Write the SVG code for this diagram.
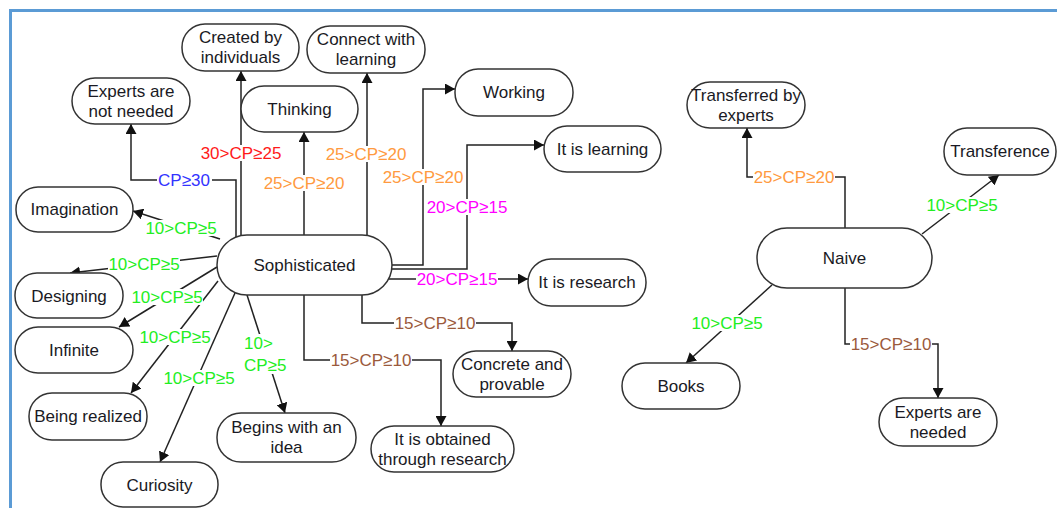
<svg xmlns="http://www.w3.org/2000/svg" width="1057" height="508" viewBox="0 0 1057 508">
<style>
.n rect{fill:#fff;stroke:#333;stroke-width:1.5}
.n text,.lb text{font-family:"Liberation Sans",Arial,sans-serif;font-size:17px;text-anchor:middle}
.n text{fill:#1a1a24}
.c path{fill:none;stroke:#222;stroke-width:1.5}
.lb rect{fill:#fff}
.bl{fill:#3333ff}.rd{fill:#ff1a1a}.or{fill:#ff9a40}.mg{fill:#ff00ff}.gr{fill:#22ee22}.br{fill:#9b5a3c}
</style>
<defs>
<marker id="ah" markerUnits="userSpaceOnUse" markerWidth="11" markerHeight="11" refX="10" refY="5.5" orient="auto">
<path d="M0,0 L10,5.5 L0,11 z" fill="#111"/>
</marker>
</defs>
<g id="frame" stroke="#5b9bd5" stroke-width="3">
<line x1="9" y1="10.5" x2="1057" y2="10.5"/>
<line x1="10.5" y1="9" x2="10.5" y2="508"/>
</g>
<g class="c" id="connectors" marker-end="url(#ah)">
<path d="M236,237 V180 H131 V124"/>
<path d="M241,236 V71"/>
<path d="M304,235 V132"/>
<path d="M367,236 V73"/>
<path d="M392,265 H423 V89 H455"/>
<path d="M391,269 H467 V145 H544"/>
<path d="M389,279 H528"/>
<path d="M362,295 V323 H512 V351"/>
<path d="M304,295 V360 H441 V426"/>
<path d="M247,295 L285,413"/>
<path d="M235,293 L160,462"/>
<path d="M218,281 L131,393"/>
<path d="M217,267 L119,327"/>
<path d="M217,256 L70,273"/>
<path d="M220,239 L133,211"/>
<path d="M845,228 V177 H747 V128"/>
<path d="M922,234 L999,175"/>
<path d="M772,285 L686,363"/>
<path d="M845,288 V344 H938 V398"/>
</g>
<g class="lb" id="labels">
<rect x="157" y="172" width="55" height="16"/><text class="bl" x="184" y="186">CP≥30</text>
<rect x="199" y="145" width="84" height="16"/><text class="rd" x="241" y="159">30&gt;CP≥25</text>
<rect x="263" y="175" width="82" height="16"/><text class="or" x="304" y="189">25&gt;CP≥20</text>
<rect x="325" y="146" width="82" height="16"/><text class="or" x="366" y="160">25&gt;CP≥20</text>
<rect x="382" y="169" width="82" height="16"/><text class="or" x="423" y="183">25&gt;CP≥20</text>
<rect x="426" y="199" width="82" height="16"/><text class="mg" x="467" y="213">20&gt;CP≥15</text>
<rect x="416" y="271" width="82" height="16"/><text class="mg" x="457" y="285">20&gt;CP≥15</text>
<rect x="394" y="315" width="82" height="16"/><text class="br" x="435" y="329">15&gt;CP≥10</text>
<rect x="330" y="352" width="82" height="16"/><text class="br" x="371" y="366">15&gt;CP≥10</text>
<rect x="243" y="334" width="46" height="40"/><text class="gr" x="244" y="349" style="text-anchor:start">10&gt;</text><text class="gr" x="244" y="371" style="text-anchor:start">CP≥5</text>
<rect x="163" y="370" width="72" height="16"/><text class="gr" x="199" y="384">10&gt;CP≥5</text>
<rect x="139" y="329" width="72" height="16"/><text class="gr" x="175" y="343">10&gt;CP≥5</text>
<rect x="131" y="289" width="72" height="16"/><text class="gr" x="167" y="303">10&gt;CP≥5</text>
<rect x="108" y="256" width="72" height="16"/><text class="gr" x="144" y="270">10&gt;CP≥5</text>
<rect x="145" y="220" width="72" height="16"/><text class="gr" x="181" y="234">10&gt;CP≥5</text>
<rect x="753" y="169" width="82" height="16"/><text class="or" x="794" y="183">25&gt;CP≥20</text>
<rect x="926" y="197" width="72" height="16"/><text class="gr" x="962" y="211">10&gt;CP≥5</text>
<rect x="691" y="315" width="72" height="16"/><text class="gr" x="727" y="329">10&gt;CP≥5</text>
<rect x="850" y="336" width="82" height="16"/><text class="br" x="891" y="350">15&gt;CP≥10</text>
</g>
<g class="n" id="n-sophisticated"><rect x="217" y="235" width="175" height="60" rx="30"/><text x="304.5" y="271">Sophisticated</text></g>
<g class="n" id="n-created"><rect x="182" y="24" width="117" height="47" rx="23"/><text x="240.5" y="43">Created by</text><text x="240.5" y="63">individuals</text></g>
<g class="n" id="n-expnot"><rect x="72" y="78" width="118" height="46" rx="23"/><text x="131" y="97">Experts are</text><text x="131" y="117">not needed</text></g>
<g class="n" id="n-thinking"><rect x="241" y="86" width="117" height="46" rx="23"/><text x="299.5" y="115">Thinking</text></g>
<g class="n" id="n-connect"><rect x="307" y="26" width="118" height="47" rx="23"/><text x="366" y="45">Connect with</text><text x="366" y="65">learning</text></g>
<g class="n" id="n-working"><rect x="455" y="69" width="118" height="47" rx="23"/><text x="514" y="98">Working</text></g>
<g class="n" id="n-learning"><rect x="544" y="126" width="117" height="46" rx="23"/><text x="602.5" y="155">It is learning</text></g>
<g class="n" id="n-imagination"><rect x="16" y="187" width="117" height="45" rx="22"/><text x="74.5" y="215">Imagination</text></g>
<g class="n" id="n-designing"><rect x="15" y="273" width="108" height="45" rx="22"/><text x="69" y="302">Designing</text></g>
<g class="n" id="n-infinite"><rect x="15" y="327" width="118" height="46" rx="23"/><text x="74" y="356">Infinite</text></g>
<g class="n" id="n-realized"><rect x="29" y="393" width="118" height="47" rx="23"/><text x="88" y="422">Being realized</text></g>
<g class="n" id="n-curiosity"><rect x="101" y="462" width="117" height="45" rx="22"/><text x="159.5" y="491">Curiosity</text></g>
<g class="n" id="n-begins"><rect x="217" y="413" width="139" height="49" rx="24"/><text x="286.5" y="433">Begins with an</text><text x="286.5" y="453">idea</text></g>
<g class="n" id="n-research"><rect x="528" y="259" width="118" height="47" rx="23"/><text x="587" y="288">It is research</text></g>
<g class="n" id="n-concrete"><rect x="453" y="351" width="118" height="46" rx="23"/><text x="512" y="370">Concrete and</text><text x="512" y="390">provable</text></g>
<g class="n" id="n-obtained"><rect x="371" y="426" width="143" height="46" rx="23"/><text x="442.5" y="445">It is obtained</text><text x="442.5" y="465">through research</text></g>
<g class="n" id="n-naive"><rect x="757" y="228" width="175" height="60" rx="30"/><text x="844.5" y="264">Naive</text></g>
<g class="n" id="n-transferred"><rect x="687" y="82" width="118" height="46" rx="23"/><text x="746" y="101">Transferred by</text><text x="746" y="121">experts</text></g>
<g class="n" id="n-transference"><rect x="944" y="128" width="112" height="47" rx="23"/><text x="1000" y="157">Transference</text></g>
<g class="n" id="n-books"><rect x="622" y="363" width="118" height="46" rx="23"/><text x="681" y="392">Books</text></g>
<g class="n" id="n-expneeded"><rect x="879" y="398" width="118" height="48" rx="24"/><text x="938" y="418">Experts are</text><text x="938" y="438">needed</text></g>
</svg>
